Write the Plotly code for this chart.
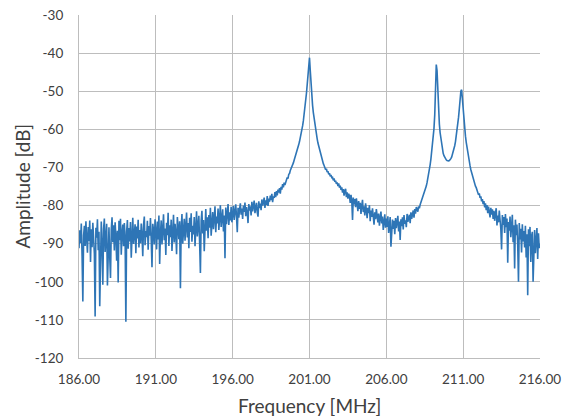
import plotly.graph_objects as go

amp_186_191 = [
    -91.2, -86.5, -89.8, -84.7, -93.1, -105.2, -87.9, -85.3, -90.6, -84.1,
    -88.7, -92.4, -85.6, -89.3, -83.9, -94.8, -86.2, -90.9, -84.5, -87.7,
    -92.6, -109.1, -85.8, -88.4, -83.6, -91.7, -86.9, -106.4, -89.5, -84.2,
    -90.3, -100.8, -86.1, -83.4, -92.2, -87.5, -84.8, -101.0, -88.9, -85.7,
    -93.4, -99.0, -86.3, -83.1, -89.6, -85.2, -91.8, -84.4, -88.0, -94.5,
    -86.6, -100.2, -84.0, -89.1, -83.5, -92.9, -87.3, -85.0, -90.7, -84.6,
    -88.2, -110.5, -86.8, -83.8, -91.3, -85.9, -89.4, -84.3, -93.7, -86.0,
    -83.2, -90.1, -87.0, -84.9, -92.5, -85.5, -88.6, -83.7, -91.0, -86.4,
    -89.9, -84.7, -87.6, -93.3, -85.1, -82.9, -90.4, -86.7, -88.3, -84.0,
    -91.6, -85.4, -87.9, -83.3, -89.0, -96.2, -84.8, -86.5, -90.2, -83.6,
]
amp_191_196 = [
    -86.8, -91.5, -84.2, -88.9, -82.6, -95.3, -87.4, -83.9, -90.2, -85.6,
    -82.3, -89.1, -86.0, -93.0, -84.5, -87.8, -81.9, -90.6, -85.2, -88.3,
    -83.7, -91.9, -86.5, -82.4, -89.7, -84.8, -87.2, -92.8, -83.0, -86.1,
    -88.8, -84.1, -101.7, -85.9, -82.2, -90.0, -86.7, -83.5, -89.2, -85.0,
    -81.8, -88.4, -84.6, -91.2, -83.2, -86.9, -82.0, -89.5, -85.3, -87.6,
    -83.0, -90.7, -84.3, -81.5, -88.1, -85.7, -82.7, -89.8, -97.7, -84.0,
    -81.4, -87.3, -83.8, -92.0, -85.5, -80.9, -86.6, -83.1, -88.6, -82.5,
    -85.8, -80.6, -87.9, -83.6, -81.7, -86.2, -84.0, -80.2, -87.0, -82.9,
    -84.7, -80.8, -86.4, -82.1, -79.9, -85.6, -83.3, -81.0, -86.8, -82.6,
    -93.8, -80.5, -84.9, -82.0, -79.6, -85.1, -81.8, -83.9, -80.3, -84.4,
]
amp_196_201 = [
    -82.3, -80.1, -83.8, -81.2, -79.7, -82.9, -87.0, -80.6, -83.2, -81.0,
    -79.4, -82.4, -80.8, -83.5, -80.0, -81.7, -79.2, -82.8, -80.4, -81.9,
    -84.6, -79.6, -81.3, -80.2, -82.6, -79.0, -81.5, -80.1, -78.7, -82.0,
    -80.5, -79.3, -81.8, -82.9, -78.9, -80.7, -79.5, -81.2, -78.4, -80.0,
    -79.2, -77.9, -80.6, -78.6, -79.8, -77.5, -80.1, -78.2, -79.0, -77.4,
    -78.6, -76.9, -79.1, -77.6, -78.0, -76.5, -77.8, -76.2, -77.3, -75.8,
    -76.6, -75.4, -76.9, -75.1, -75.8, -74.4, -75.2, -74.0, -74.6, -73.5,
    -73.3, -72.6, -72.9, -71.8, -71.6, -70.8, -70.4, -69.9, -69.3, -68.8,
    -68.1, -67.5, -66.9, -66.2, -65.5, -64.8, -64.0, -63.2, -62.3, -61.4,
    -60.3, -59.1, -57.8, -56.3, -54.6, -52.7, -50.6, -48.3, -46.0, -44.2,
]
amp_201_206 = [
    -41.2, -44.6, -48.4, -51.3, -53.7, -55.6, -57.2, -58.5, -59.7, -60.8,
    -62.5, -63.6, -64.5, -65.4, -66.3, -67.0, -67.8, -68.4, -69.0, -69.5,
    -70.0, -70.6, -70.3, -71.2, -71.0, -71.8, -71.5, -72.3, -72.0, -72.7,
    -72.6, -73.4, -72.9, -73.8, -73.5, -74.3, -73.9, -74.9, -74.2, -75.3,
    -74.8, -75.9, -75.2, -76.6, -75.7, -77.4, -76.1, -75.6, -77.8, -76.5,
    -78.2, -76.9, -77.5, -79.3, -77.2, -78.6, -83.8, -77.9, -79.7, -78.3,
    -80.4, -78.1, -79.6, -81.5, -78.8, -80.9, -79.3, -82.2, -80.0, -78.5,
    -81.7, -80.2, -82.6, -79.4, -81.1, -83.3, -80.6, -82.0, -79.9, -84.1,
    -81.3, -83.0, -80.7, -82.5, -85.0, -81.8, -83.6, -80.9, -82.8, -84.4,
    -82.1, -85.3, -83.2, -81.6, -84.7, -82.9, -86.4, -83.5, -82.3, -85.8,
]
amp_206_211 = [
    -83.4, -85.6, -82.8, -87.2, -84.1, -83.0, -90.8, -85.3, -83.7, -86.1,
    -84.0, -87.5, -83.3, -85.9, -84.6, -82.7, -86.8, -84.2, -89.0, -83.6,
    -85.4, -83.1, -86.3, -82.5, -84.8, -83.9, -85.7, -82.2, -84.3, -83.0,
    -82.4, -84.6, -81.8, -83.5, -82.0, -81.3, -83.2, -80.9, -82.1, -80.4,
    -81.0, -81.6, -80.2, -80.7, -79.8, -79.2, -78.9, -78.0, -77.9, -77.0,
    -76.3, -75.6, -74.9, -74.0, -73.0, -71.9, -70.6, -69.3, -67.8, -66.2,
    -64.5, -62.5, -59.8, -56.2, -51.0, -43.0, -44.6, -51.5, -55.8, -58.6,
    -60.9, -62.6, -64.3, -65.4, -66.3, -66.9, -67.4, -67.8, -68.0, -68.2,
    -68.3, -68.3, -68.2, -68.0, -67.7, -67.3, -66.7, -66.0, -65.2, -64.3,
    -63.2, -61.8, -60.2, -58.6, -56.8, -54.6, -52.0, -50.0, -49.6, -52.4,
]
amp_211_216 = [
    -55.5, -57.6, -59.8, -61.8, -63.4, -64.9, -66.3, -67.5, -68.6, -69.6,
    -70.6, -71.4, -72.3, -72.9, -73.7, -74.1, -74.9, -75.3, -76.1, -76.3,
    -77.2, -76.8, -78.0, -77.6, -78.9, -78.3, -79.6, -78.8, -80.5, -79.4,
    -81.2, -79.9, -82.0, -80.3, -81.6, -83.1, -80.6, -82.4, -81.0, -83.5,
    -81.4, -84.0, -82.1, -80.7, -85.2, -82.6, -84.4, -81.3, -83.8, -86.0,
    -91.5, -82.5, -85.1, -83.0, -87.2, -82.2, -85.7, -83.4, -95.0, -84.3,
    -86.6, -82.9, -88.3, -84.8, -82.4, -89.6, -85.2, -96.5, -83.7, -87.8,
    -85.0, -90.4, -100.0, -84.6, -88.9, -86.1, -92.3, -84.9, -89.4, -86.7,
    -91.0, -85.3, -93.6, -87.5, -103.5, -86.2, -90.7, -85.6, -94.8, -88.1,
    -86.9, -100.0, -89.2, -86.4, -92.5, -88.0, -85.9, -94.0, -87.3, -91.2,
    -90.0,
]

amplitude = amp_186_191 + amp_191_196 + amp_196_201 + amp_201_206 + amp_206_211 + amp_211_216
f_start, f_step = 186.0, 0.05  # sampling grid of the spectrum analyser
frequency = [round(f_start + f_step * i, 2) for i in range(len(amplitude))]

x_ticks = [186, 191, 196, 201, 206, 211, 216]
x_tick_labels = ["186.00", "191.00", "196.00", "201.00", "206.00", "211.00", "216.00"]
y_ticks = [-120, -110, -100, -90, -80, -70, -60, -50, -40, -30]
y_tick_labels = ["-120", "-110", "-100", "-90", "-80", "-70", "-60", "-50", "-40", "-30"]
x_title = "Frequency [MHz]"
y_title = "Amplitude [dB]"

grid = "#bdbdbd"
txt = "#404040"
font_family = "Lato, 'Open Sans', sans-serif"

fig = go.Figure(go.Scatter(
    x=frequency, y=amplitude, mode="lines",
    line=dict(color="#2e75b6", width=1.6),
    hoverinfo="skip", showlegend=False,
))

fig.update_layout(
    width=566, height=416,
    margin=dict(l=79, r=26, t=15, b=58),
    paper_bgcolor="white", plot_bgcolor="white",
    font=dict(family=font_family, color=txt),
    xaxis=dict(
        range=[186, 216], tickvals=x_ticks, ticktext=x_tick_labels,
        showgrid=True, gridcolor=grid, gridwidth=1, automargin=False,
        showline=True, linecolor=grid, linewidth=1, mirror=False,
        zeroline=False, ticks="", ticklabelstandoff=9,
        tickfont=dict(size=13.5, color=txt, family=font_family),
    ),
    yaxis=dict(
        range=[-120, -30], tickvals=y_ticks, ticktext=y_tick_labels,
        showgrid=True, gridcolor=grid, gridwidth=1, automargin=False,
        showline=True, linecolor=grid, linewidth=1,
        zeroline=False, ticks="", ticklabelstandoff=12,
        tickfont=dict(size=13.5, color=txt, family=font_family),
    ),
    annotations=[
        dict(text=x_title, xref="paper", yref="paper", x=0.5, y=0,
             xanchor="center", yanchor="middle", yshift=-47, showarrow=False,
             font=dict(size=19, color=txt, family=font_family)),
        dict(text=y_title, xref="paper", yref="paper", x=0, y=0.5,
             xanchor="center", yanchor="middle", xshift=-57, textangle=-90, showarrow=False,
             font=dict(size=19, color=txt, family=font_family)),
    ],
)

fig.write_html("out.html")
